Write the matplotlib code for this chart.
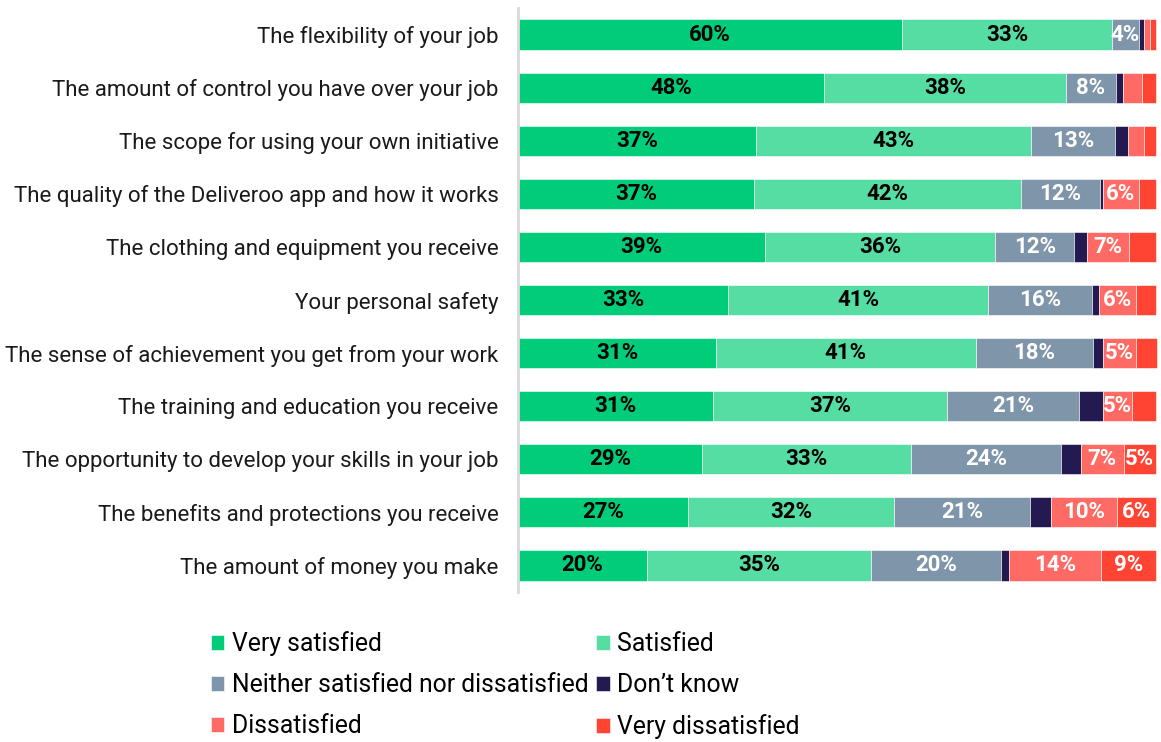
import numpy as np
import matplotlib.pyplot as plt

plt.rcParams['font.family'] = ['Roboto', 'DejaVu Sans']

# Survey items (top to bottom)
items = [
    "The flexibility of your job",
    "The amount of control you have over your job",
    "The scope for using your own initiative",
    "The quality of the Deliveroo app and how it works",
    "The clothing and equipment you receive",
    "Your personal safety",
    "The sense of achievement you get from your work",
    "The training and education you receive",
    "The opportunity to develop your skills in your job",
    "The benefits and protections you receive",
    "The amount of money you make",
]

# Shares in % for each answer
very_satisfied = [60.2, 48.0, 37.3, 37.0, 38.7, 32.9, 31.0, 30.6, 28.8, 26.6, 20.2]
satisfied = [32.9, 37.9, 43.1, 41.8, 36.1, 40.8, 40.7, 36.7, 32.8, 32.4, 35.1]
neither = [4.2, 7.8, 13.2, 12.4, 12.4, 16.3, 18.4, 20.6, 23.5, 21.3, 20.4]
dont_know = [0.8, 1.1, 2.0, 0.5, 2.0, 1.1, 1.6, 3.8, 3.1, 3.3, 1.3]
dissatisfied = [0.9, 3.0, 2.5, 5.6, 6.6, 5.8, 5.1, 4.6, 6.7, 10.2, 14.4]
very_dissatisfied = [1.0, 2.2, 1.9, 2.7, 4.2, 3.1, 3.3, 3.7, 5.1, 6.2, 8.6]

series = [
    ("Very satisfied", very_satisfied, "#00cc7a", "black", 4),
    ("Satisfied", satisfied, "#55dda4", "black", 4),
    ("Neither satisfied nor dissatisfied", neither, "#7f95aa", "white", 4),
    ("Don\u2019t know", dont_know, "#221a50", "white", None),
    ("Dissatisfied", dissatisfied, "#ff6b64", "white", 5),
    ("Very dissatisfied", very_dissatisfied, "#ff4433", "white", 5),
]

fig = plt.figure(figsize=(11.61, 7.42), dpi=100)
ax = fig.add_axes([518 / 1161, 1 - 592 / 742, 640 / 1161, 584 / 742])

y = np.arange(len(items))
left = np.zeros(len(items))
handles = {}
for name, vals, color, txt_color, min_label in series:
    vals = np.array(vals)
    bars = ax.barh(y, vals, left=left, height=0.57, color=color,
                   edgecolor="white", linewidth=0.4, label=name)
    handles[name] = bars
    if min_label is not None:
        for yi, l, v in zip(y, left, vals):
            lab = int(np.floor(v + 0.5))
            if lab >= min_label:
                ax.text(l + v / 2, yi, f"{lab}%", ha="center", va="center",
                        color=txt_color, fontsize=16, fontweight="bold")
    left += vals

ax.set_xlim(0, 100.3)
ax.set_ylim(10.5, -0.5)
ax.set_yticks(y)
ax.set_yticklabels(items, fontsize=16, color="#1a1a1a")
ax.tick_params(axis="y", length=0, pad=14)
ax.set_xticks([])
for s in ["top", "right", "bottom"]:
    ax.spines[s].set_visible(False)
ax.spines["left"].set_color("#d9d9d9")
ax.spines["left"].set_linewidth(2)

order = ["Very satisfied", "Neither satisfied nor dissatisfied", "Dissatisfied",
         "Satisfied", "Don\u2019t know", "Very dissatisfied"]
fig.legend([handles[k] for k in order], order, loc="upper left",
           bbox_to_anchor=(201 / 1161, 1 - 621 / 742), ncol=2, frameon=False,
           fontsize=17.8, handlelength=0.55, handleheight=0.55, handletextpad=0.3,
           columnspacing=0.3, labelspacing=0.7, borderaxespad=0)

fig.savefig("out.png", dpi=100)
